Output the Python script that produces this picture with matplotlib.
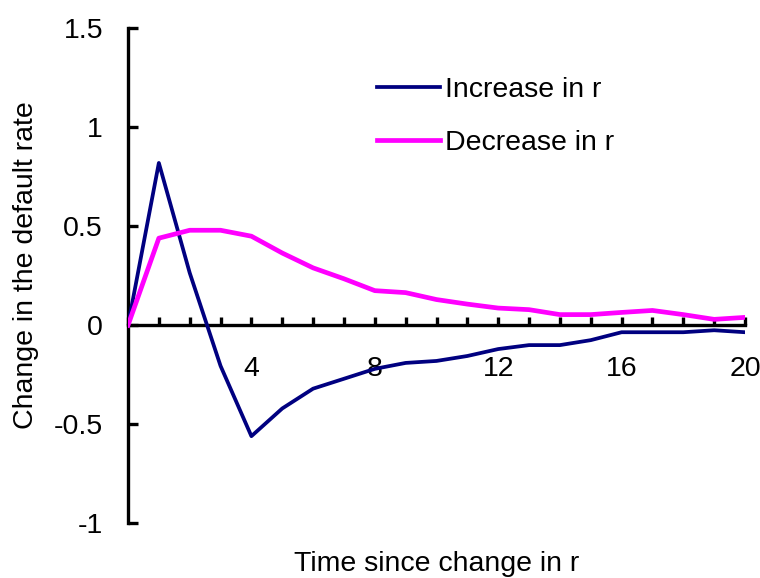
import matplotlib
matplotlib.use("Agg")
import matplotlib.pyplot as plt
from matplotlib.ticker import FixedLocator, MultipleLocator

# dados
tempo = list(range(21))
aumento = [0, 0.82, 0.265, -0.205, -0.56, -0.42, -0.32, -0.27, -0.22, -0.19,
           -0.18, -0.155, -0.12, -0.10, -0.10, -0.075, -0.035, -0.035, -0.035,
           -0.025, -0.035]
reducao = [0, 0.44, 0.48, 0.48, 0.45, 0.365, 0.29, 0.235, 0.175, 0.165,
           0.13, 0.107, 0.087, 0.079, 0.054, 0.054, 0.065, 0.075, 0.054,
           0.03, 0.04]
yticks = [-1, -0.5, 0, 0.5, 1, 1.5]
ylabels = ["-1", "-0.5", "0", "0.5", "1", "1.5"]

plt.rcParams['font.family'] = ['Liberation Sans', 'DejaVu Sans']
fs = 20.5

fig = plt.figure(figsize=(7.6, 5.78), dpi=100)
ax = fig.add_axes([128/760, 1 - 523.3/578, 617/760, 495/578])

ax.plot(tempo, aumento, color='#000080', lw=2.7, label='Increase in r')
ax.plot(tempo, reducao, color='#FF00FF', lw=3.4, label='Decrease in r')

ax.set_xlim(0, 20)
ax.set_ylim(-1, 1.5)

# eixo x passando pelo zero
ax.spines['bottom'].set_position(('data', 0))
ax.spines['top'].set_visible(False)
ax.spines['right'].set_visible(False)
for s in ['bottom', 'left']:
    ax.spines[s].set_linewidth(2.4)
    ax.spines[s].set_zorder(1)

ax.xaxis.set_major_locator(FixedLocator([4, 8, 12, 16, 20]))
ax.xaxis.set_minor_locator(MultipleLocator(1))
ax.tick_params(axis='x', which='both', direction='in', length=6, width=2.4,
               labelsize=fs, pad=22)
ax.set_yticks(yticks)
ax.set_yticklabels(ylabels)
ax.tick_params(axis='y', direction='in', length=7, width=2.4,
               labelsize=fs, pad=18)

ax.set_ylabel('Change in the default rate', fontsize=fs)
ax.yaxis.set_label_coords(-0.144, 0.522)
fig.text(436.5/760, 1 - 564/578, 'Time since change in r', fontsize=fs,
         ha='center', va='center')

ax.legend(loc='upper left', bbox_to_anchor=(377/760, 1 - 77/578),
          bbox_transform=fig.transFigure, frameon=False, fontsize=fs,
          borderpad=0, borderaxespad=0, handlelength=2.2, handletextpad=0.2,
          labelspacing=0.95)

fig.savefig('out.png', dpi=100)
